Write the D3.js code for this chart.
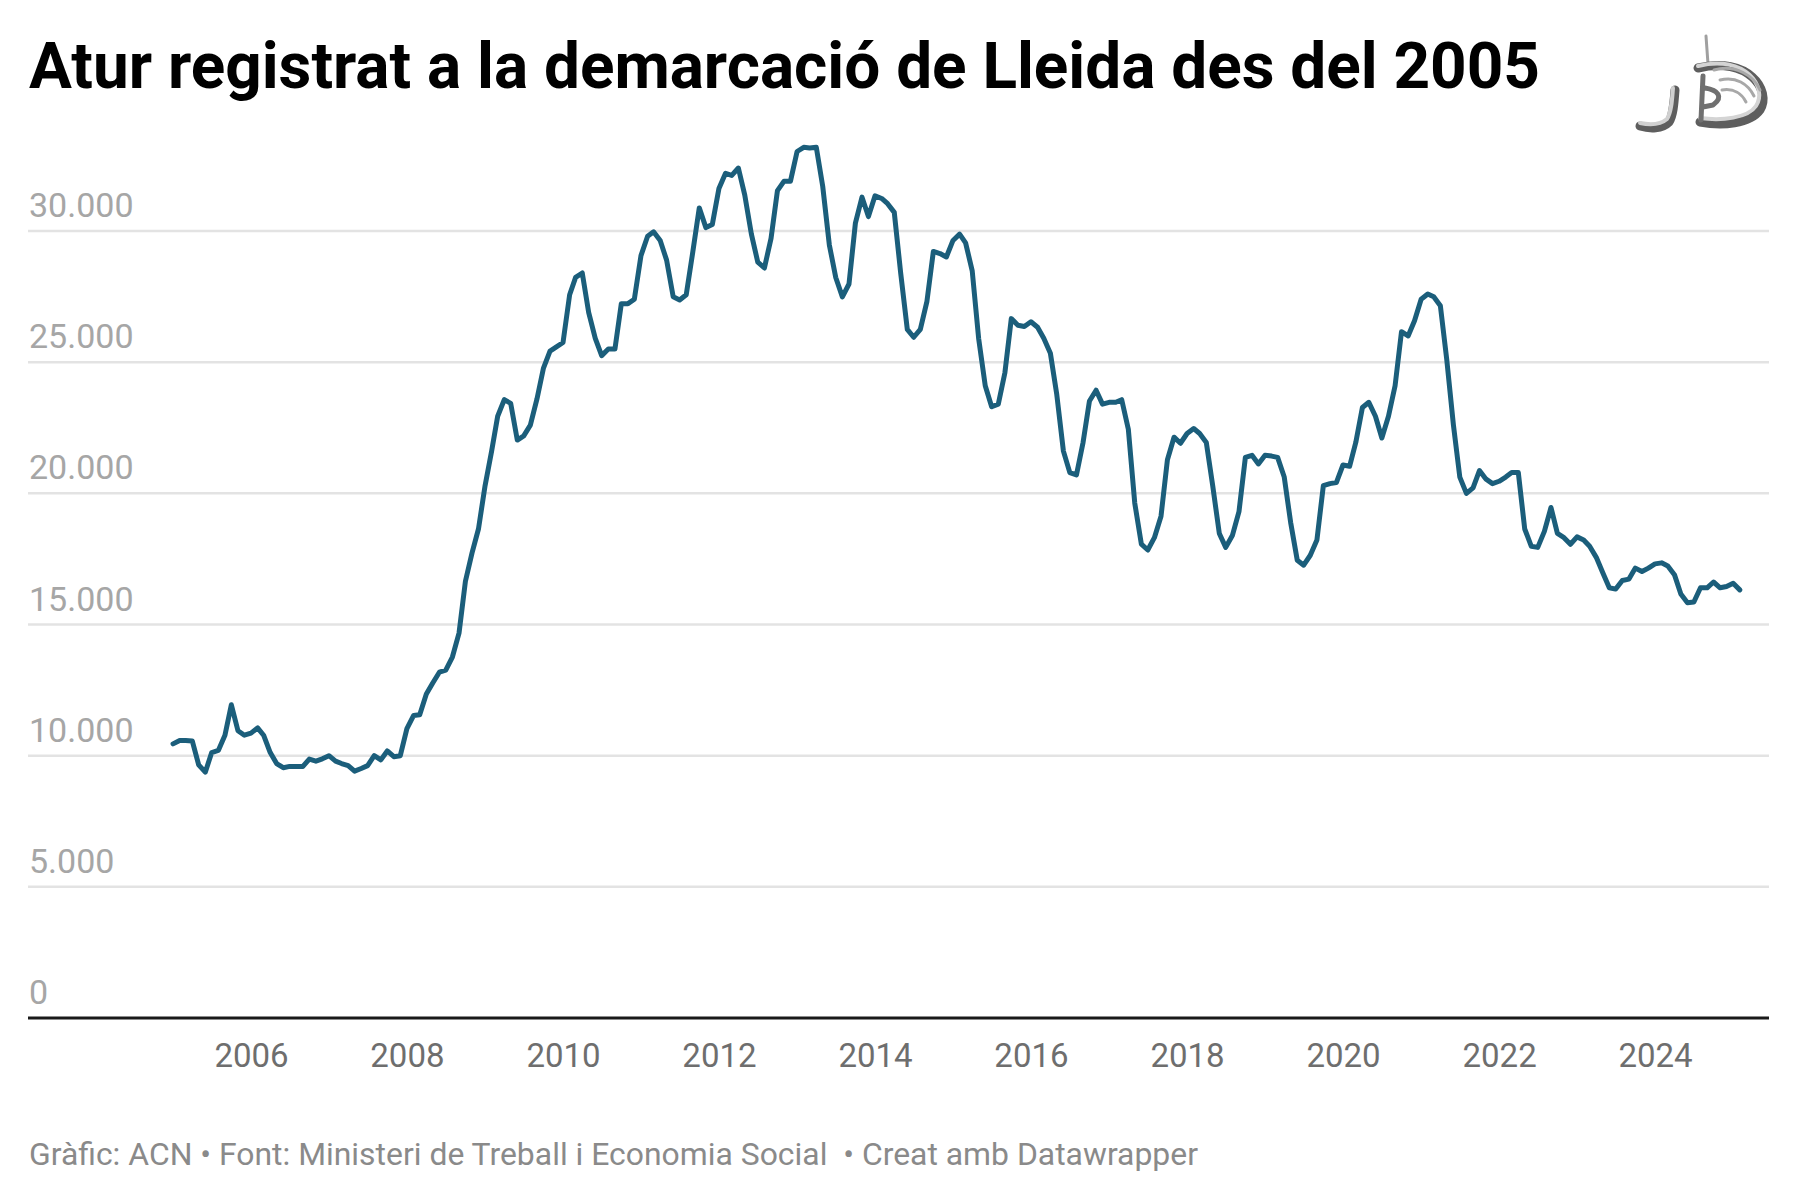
<!DOCTYPE html>
<html>
<head>
<meta charset="utf-8">
<script src="https://cdn.jsdelivr.net/npm/d3@7"></script>
<style>
body { margin: 0; background: #fff; }
svg { display: block; font-family: Roboto, "Noto Sans", sans-serif; }
</style>
</head>
<body>
<svg id="chart" width="1800" height="1202"></svg>
<script>
// monthly registered unemployment, Lleida, from Jan 2005
var startDate = new Date(2005, 0, 1);
var values = [
  10450, 10580, 10580, 10560, 9650, 9370, 10120, 10200, 10780, 11940, 10950, 10780,
  10860, 11060, 10780, 10120, 9700, 9540, 9590, 9590, 9590, 9870, 9790, 9880,
  10000, 9790, 9700, 9620, 9410, 9510, 9620, 10000, 9840, 10180, 9960, 10000,
  11030, 11530, 11560, 12350, 12770, 13180, 13260, 13760, 14670, 16650, 17730, 18640,
  20290, 21620, 22940, 23570, 23430, 22030, 22190, 22600, 23600, 24760, 25420, 25580,
  25750, 27570, 28230, 28400, 26900, 25910, 25250, 25500, 25500, 27230, 27230, 27400,
  29060, 29800, 29970, 29640, 28890, 27490, 27370, 27570, 29220, 30880, 30130, 30250,
  31620, 32200, 32120, 32400, 31370, 29880, 28810, 28590, 29720, 31540, 31900, 31900,
  33030, 33190, 33160, 33190, 31700, 29470, 28230, 27490, 27980, 30300, 31290, 30550,
  31340, 31240, 31040, 30710, 28400, 26250, 25950, 26250, 27320, 29220, 29140, 29010,
  29640, 29880, 29550, 28480, 25910, 24100, 23300, 23400, 24600, 26660, 26410, 26360,
  26540, 26330, 25910, 25340, 23760, 21610, 20790, 20700, 21940, 23520, 23930, 23400,
  23470, 23470, 23570, 22440, 19630, 18060, 17840, 18310, 19130, 21280, 22140, 21910,
  22280, 22470, 22280, 21940, 20290, 18470, 17940, 18390, 19300, 21370, 21450, 21120,
  21450, 21420, 21370, 20620, 18890, 17450, 17260, 17640, 18220, 20290, 20370, 20410,
  21080, 21030, 21940, 23270, 23470, 22940, 22110, 22940, 24100, 26160, 26000, 26580,
  27400, 27600, 27490, 27150, 25090, 22610, 20620, 20000, 20210, 20870, 20540, 20370,
  20460, 20620, 20790, 20790, 18640, 17980, 17940, 18550, 19460, 18470, 18310, 18060,
  18340, 18220, 17980, 17560, 16980, 16400, 16350, 16680, 16730, 17150, 17020, 17150,
  17310, 17350, 17230, 16900, 16160, 15830, 15860, 16400, 16400, 16620, 16400, 16450,
  16570, 16320
];
var yTicks = [0, 5000, 10000, 15000, 20000, 25000, 30000];
var xTickYears = [2006, 2008, 2010, 2012, 2014, 2016, 2018, 2020, 2022, 2024];

var titleText = "Atur registrat a la demarcació de Lleida des del 2005";
var footerText = "Gràfic: ACN \u2022 Font: Ministeri de Treball i Economia Social \u00a0\u2022 Creat amb Datawrapper";

var svg = d3.select("#chart");

var data = values.map(function(v, i){
    return { date: d3.timeMonth.offset(startDate, i), value: v };
});

var ca = d3.formatLocale({ decimal: ",", thousands: ".", grouping: [3], currency: ["", " €"] });
var fmt = ca.format(",");

var left = 28, right = 1769;

var x = d3.scaleTime()
    .domain([new Date(2006, 0, 1), new Date(2024, 0, 1)])
    .range([251, 1655]);

var y = d3.scaleLinear()
    .domain([0, 30000])
    .range([1018, 231]);

/* title */
svg.append("text")
    .attr("x", 29)
    .attr("y", 88)
    .attr("font-size", 64)
    .attr("font-weight", 700)
    .attr("fill", "#000")
    .attr("textLength", 1511)
    .attr("lengthAdjust", "spacingAndGlyphs")
    .text(titleText);

/* gridlines + y labels */
var grid = svg.append("g");
yTicks.forEach(function(t){
    if (t > 0) {
        grid.append("line")
            .attr("x1", left).attr("x2", right)
            .attr("y1", y(t)).attr("y2", y(t))
            .attr("stroke", "#e3e3e3")
            .attr("stroke-width", 2.5);
    }
    grid.append("text")
        .attr("x", 29)
        .attr("y", y(t) - 14)
        .attr("font-size", 34)
        .attr("fill", "#a6a6a6")
        .text(fmt(t));
});

/* x axis */
var xAxis = d3.axisBottom(x)
    .tickValues(xTickYears.map(function(yr){ return new Date(yr, 0, 1); }))
    .tickFormat(d3.timeFormat("%Y"))
    .tickSize(0)
    .tickPadding(0);

var gx = svg.append("g")
    .attr("transform", "translate(0," + y(0) + ")")
    .call(xAxis);
gx.select(".domain").remove();
gx.selectAll("text")
    .attr("y", 49)
    .attr("dy", 0)
    .attr("font-size", 33)
    .attr("font-family", "Roboto, sans-serif")
    .attr("fill", "#6e6e6e");

svg.append("line")
    .attr("x1", left).attr("x2", right)
    .attr("y1", y(0)).attr("y2", y(0))
    .attr("stroke", "#1a1a1a")
    .attr("stroke-width", 3);

/* the line */
var line = d3.line()
    .x(function(d){ return x(d.date); })
    .y(function(d){ return y(d.value); });

svg.append("path")
    .datum(data)
    .attr("d", line)
    .attr("fill", "none")
    .attr("stroke", "#1b5e7b")
    .attr("stroke-width", 5)
    .attr("stroke-linejoin", "round")
    .attr("stroke-linecap", "round");

/* footer */
svg.append("text")
    .attr("x", 29)
    .attr("y", 1165)
    .attr("font-size", 31)
    .attr("fill", "#8a8a8a")
    .attr("textLength", 1169)
    .attr("lengthAdjust", "spacingAndGlyphs")
    .text(footerText);

/* logo (rough) */
var logo = svg.append("g")
    .attr("fill", "none")
    .attr("stroke-linecap", "round")
    .attr("stroke-linejoin", "round");
logo.append("path")
    .attr("d", "M1706,36 L1708,64")
    .attr("stroke", "#a0a0a0").attr("stroke-width", 3);
// shadow layer
logo.append("path")
    .attr("d", "M1675,90 C1674,104 1673,116 1669,122 C1662,129 1650,129 1640,126")
    .attr("stroke", "#5e5e5e").attr("stroke-width", 9);
logo.append("path")
    .attr("d", "M1673,88 C1672,102 1671,113 1667,119 C1660,125 1650,125 1640,123")
    .attr("stroke", "#d0d0d0").attr("stroke-width", 4);
logo.append("path")
    .attr("d", "M1698,68 C1748,56 1772,90 1760,110 C1750,124 1722,126 1700,122")
    .attr("stroke", "#5e5e5e").attr("stroke-width", 9);
logo.append("path")
    .attr("d", "M1698,66 C1746,54 1768,88 1756,106 C1748,118 1722,121 1700,118")
    .attr("stroke", "#d4d4d4").attr("stroke-width", 4);
logo.append("path")
    .attr("d", "M1714,70 C1736,64 1754,76 1760,90 M1720,80 C1736,76 1748,84 1754,96 M1722,90 C1734,88 1742,94 1746,102")
    .attr("stroke", "#a8a8a8").attr("stroke-width", 3);
logo.append("path")
    .attr("d", "M1703,76 L1701,120 M1705,88 C1718,90 1724,97 1713,105 L1703,107")
    .attr("stroke", "#707070").attr("stroke-width", 5);
</script>
</body>
</html>
